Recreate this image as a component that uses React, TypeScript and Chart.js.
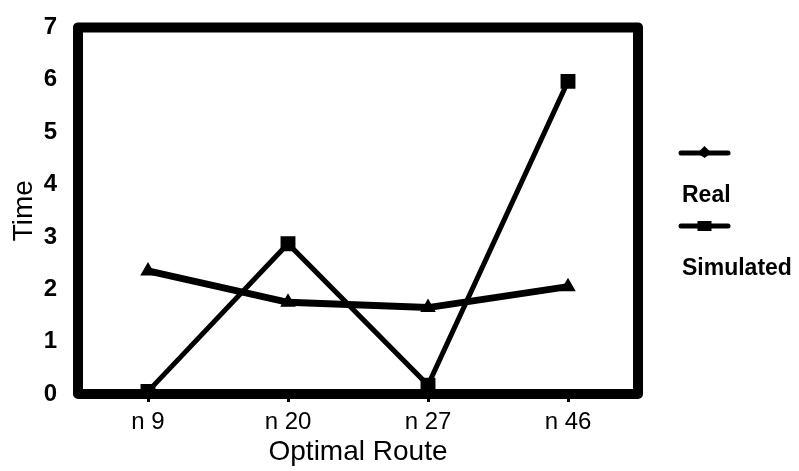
import React, { useEffect, useRef } from "react";
import { Chart, registerables } from "chart.js";

Chart.register(...registerables);

const categories = ["n 9", "n 20", "n 27", "n 46"];
const realValues = [2.35, 1.75, 1.65, 2.05];
const simulatedValues = [0.05, 2.87, 0.17, 5.97];
const yTicks = [0, 1, 2, 3, 4, 5, 6, 7];
const seriesNames = ["Real", "Simulated"];

const FONT = "'Liberation Sans', Arial, sans-serif";

const framePlugin = {
  id: "frame",
  afterDatasetsDraw(chart: any) {
    const { ctx, chartArea } = chart;
    ctx.save();
    ctx.strokeStyle = "#000";
    ctx.lineWidth = 10;
    ctx.lineJoin = "round";
    ctx.strokeRect(chartArea.left, chartArea.top, chartArea.right - chartArea.left, chartArea.bottom - chartArea.top);
    ctx.restore();
  },
};

const legendPlugin = {
  id: "sideLegend",
  afterDraw(chart: any) {
    const { ctx } = chart;
    const x0 = 681;
    const x1 = 728;
    const rows = [153, 226];
    ctx.save();
    chart.data.datasets.forEach((ds: any, i: number) => {
      const y = rows[i];
      ctx.strokeStyle = "#000";
      ctx.lineWidth = 5;
      ctx.lineCap = "round";
      ctx.beginPath();
      ctx.moveTo(x0, y);
      ctx.lineTo(x1, y);
      ctx.stroke();
      ctx.fillStyle = "#000";
      const cx = (x0 + x1) / 2;
      if (ds.pointStyle === "rect") {
        ctx.fillRect(cx - 7, y - 5, 14, 10);
      } else {
        ctx.beginPath();
        ctx.moveTo(cx, y - 7);
        ctx.lineTo(cx + 7, y);
        ctx.lineTo(cx, y + 5);
        ctx.lineTo(cx - 7, y);
        ctx.closePath();
        ctx.fill();
      }
      ctx.font = `bold 23px ${FONT}`;
      ctx.textAlign = "left";
      ctx.textBaseline = "middle";
      ctx.fillText(ds.label, 682, y + 43);
    });
    ctx.restore();
  },
};

export default function App() {
  const ref = useRef<HTMLCanvasElement | null>(null);
  useEffect(() => {
    if (!ref.current) return;
    const chart = new Chart(ref.current, {
      type: "line",
      data: {
        labels: categories,
        datasets: [
          {
            label: seriesNames[0],
            data: realValues,
            borderColor: "#000",
            backgroundColor: "#000",
            borderWidth: 7,
            pointStyle: "triangle",
            pointRadius: 2,
            tension: 0,
          },
          {
            label: seriesNames[1],
            data: simulatedValues,
            borderColor: "#000",
            backgroundColor: "#000",
            borderWidth: 5,
            pointStyle: "rect",
            pointRadius: 7,
            tension: 0,
          },
        ],
      },
      options: {
        responsive: false,
        animation: false,
        layout: { padding: { left: 0, right: 161, top: 12, bottom: 0 } },
        plugins: { legend: { display: false }, tooltip: { enabled: false } },
        scales: {
          x: {
            offset: true,
            grid: { display: true, drawOnChartArea: false, color: "#000", lineWidth: 3, tickLength: 8 },
            border: { display: false },
            ticks: { color: "#000", font: { family: FONT, size: 24 }, padding: 6 },
            title: { display: true, text: "Optimal Route", color: "#000", font: { family: FONT, size: 28 }, padding: { top: 0, bottom: 2 } },
            afterFit(scale: any) {
              scale.height = 77;
            },
          },
          y: {
            min: 0,
            max: 7,
            afterBuildTicks(scale: any) {
              scale.ticks = yTicks.map((v) => ({ value: v }));
            },
            grid: { display: false },
            border: { display: false },
            ticks: { color: "#000", font: { family: FONT, size: 24, weight: "bold" }, padding: 13 },
            title: { display: true, text: "Time", color: "#000", font: { family: FONT, size: 28 }, padding: { top: 7, bottom: 0 } },
            afterFit(scale: any) {
              scale.width = 78;
            },
          },
        },
      },
      plugins: [framePlugin, legendPlugin],
    });
    return () => chart.destroy();
  }, []);
  return (
    <div style={{ position: "fixed", left: 0, top: 0, width: 799, height: 471, background: "#fff" }}>
      <canvas ref={ref} width={799} height={471} style={{ display: "block" }} />
    </div>
  );
}
